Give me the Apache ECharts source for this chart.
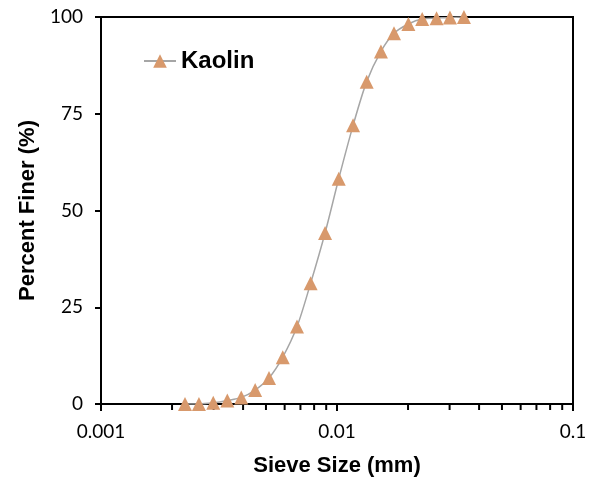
<!DOCTYPE html>
<html><head><meta charset="utf-8">
<script src="https://cdn.jsdelivr.net/npm/echarts@6/dist/echarts.min.js"></script>
<style>html,body{margin:0;padding:0;background:#fff}#c{width:596px;height:482px}</style>
</head><body><div id="c"></div>
<script>
const sieveSize = [0.00227,0.0026,0.00299,0.00343,0.00393,0.0045,0.00515,0.00589,0.00677,0.00773,0.0089,0.01017,0.0117,0.01336,0.01535,0.01744,0.02006,0.02296,0.02642,0.0301,0.0345];
const percentFiner = [0,0,0.3,0.9,1.7,3.6,6.7,12.1,20.0,31.2,44.2,58.2,72.0,83.3,91.1,95.8,98.2,99.5,99.7,99.9,100];
const xTickLabels = {0.001:'0.001',0.01:'0.01',0.1:'0.1'};
const yTicks = [0,25,50,75,100];
const minorTicks = [0.002,0.003,0.004,0.005,0.006,0.007,0.008,0.009,0.02,0.03,0.04,0.05,0.06,0.07,0.08,0.09];

const chart = echarts.init(document.getElementById('c'));
const tickFont = {color:'#000',fontSize:19,fontFamily:'Lato'};
chart.setOption({
  animation:false,
  grid:{left:101,right:23,top:17,bottom:76,show:true,borderColor:'#000',borderWidth:2,backgroundColor:'#fff'},
  legend:{left:138,top:44,itemWidth:32,itemHeight:17,itemGap:3,
    textStyle:{fontSize:24,fontWeight:'bold',fontFamily:'Liberation Sans',color:'#000'},
    data:['Kaolin']},
  xAxis:{type:'log',logBase:10,min:0.001,max:0.1,
    name:'Sieve Size (mm)',nameLocation:'middle',nameGap:51,
    nameTextStyle:{fontSize:22,fontWeight:'bold',fontFamily:'Liberation Sans',color:'#000'},
    axisLine:{lineStyle:{color:'#000',width:2}},
    axisTick:{length:7,lineStyle:{color:'#000',width:2}},
    splitLine:{show:false},
    axisLabel:Object.assign({margin:18,formatter:v=>xTickLabels[+v.toPrecision(3)]||''},tickFont)},
  yAxis:{type:'value',min:0,max:100,interval:25,
    name:'Percent Finer (%)',nameLocation:'middle',nameGap:61,
    nameTextStyle:{fontSize:22,fontWeight:'bold',fontFamily:'Liberation Sans',color:'#000'},
    axisLine:{show:true,lineStyle:{color:'#000',width:2}},
    axisTick:{show:true,length:6,lineStyle:{color:'#000',width:2}},
    splitLine:{show:false},
    axisLabel:Object.assign({margin:18},tickFont)},
  series:[
    {type:'custom',silent:true,clip:false,z:1,
     data:minorTicks.map(v=>[v]),
     renderItem:function(params,api){
       const p=api.coord([api.value(0),0]);
       return {type:'line',shape:{x1:p[0],y1:p[1],x2:p[0],y2:p[1]+6},style:{stroke:'#000',lineWidth:2}};
     },
     encode:{x:0}},
    {name:'Kaolin',type:'line',data:sieveSize.map((x,i)=>[x,percentFiner[i]]),
     smooth:0.3,symbol:'triangle',symbolSize:14,
     lineStyle:{color:'#a6a6a6',width:1.5},
     itemStyle:{color:'#D8996C'},z:3}
  ]
});
</script></body></html>
